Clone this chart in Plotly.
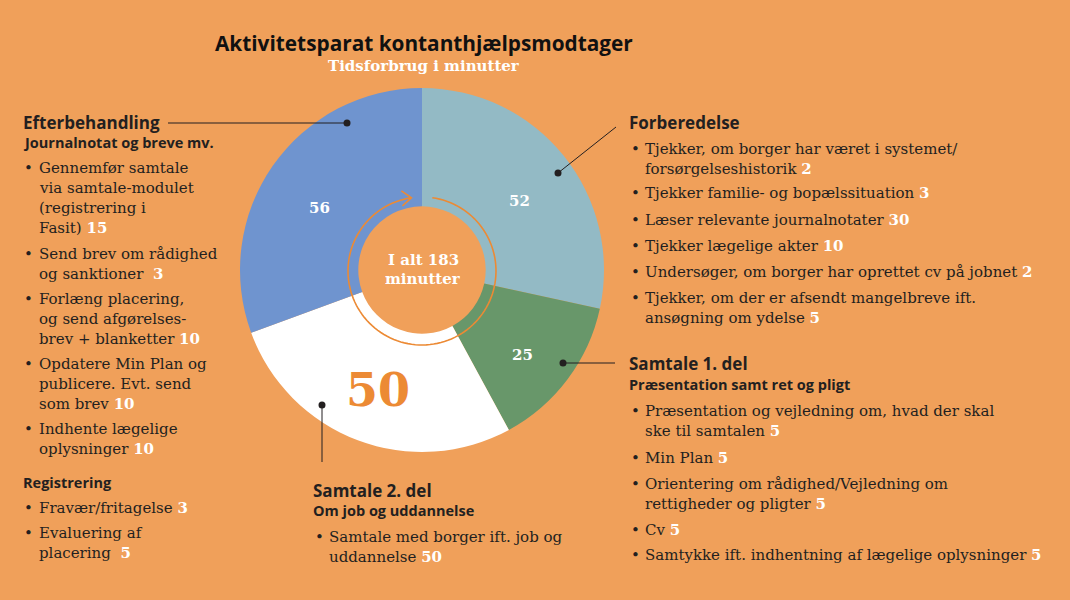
import math
import plotly.graph_objects as go

W, H = 1070, 600

# ---------------- data ----------------
phases = ["Forberedelse", "Samtale 1. del", "Samtale 2. del", "Efterbehandling"]
phase_minutes = [52, 25, 50, 56]
total_minutes = 183

forb_items = [["Tjekker, om borger har været i systemet/", "forsørgelseshistorik"],
              ["Tjekker familie- og bopælssituation"],
              ["Læser relevante journalnotater"],
              ["Tjekker lægelige akter"],
              ["Undersøger, om borger har oprettet cv på jobnet"],
              ["Tjekker, om der er afsendt mangelbreve ift.", "ansøgning om ydelse"]]
forb_minutes = [2, 3, 30, 10, 2, 5]

s1_items = [["Præsentation og vejledning om, hvad der skal", "ske til samtalen"],
            ["Min Plan"],
            ["Orientering om rådighed/Vejledning om", "rettigheder og pligter"],
            ["Cv"],
            ["Samtykke ift. indhentning af lægelige oplysninger"]]
s1_minutes = [5, 5, 5, 5, 5]

s2_items = [["Samtale med borger ift. job og", "uddannelse"]]
s2_minutes = [50]

efter_items = [["Gennemfør samtale", "via samtale-modulet", "(registrering i", "Fasit)"],
               ["Send brev om rådighed", "og sanktioner "],
               ["Forlæng placering,", "og send afgørelses-", "brev + blanketter"],
               ["Opdatere Min Plan og", "publicere. Evt. send", "som brev"],
               ["Indhente lægelige", "oplysninger"]]
efter_minutes = [15, 3, 10, 10, 10]

reg_items = [["Fravær/fritagelse"], ["Evaluering af", "placering "]]
reg_minutes = [3, 5]

# ---------------- style ----------------
BG = "#F0A05A"
COLORS = ["#93BAC5", "#68976A", "#FFFFFF", "#6F94CF"]
LABEL_COLORS = ["white", "white", "#EC8A34", "white"]
LABEL_SIZES = [15, 15, 46, 15]
LABEL_DY = [10, 10, 2, 10]
DARK = "#231F20"
SANS = "Open Sans"
SERIF = "DejaVu Serif"
NUMF = "DejaVu Serif"
BODY = 15
LINE = 20

def px(x):
    return x / W

def py(y):
    return 1 - y / H

CX, CY, R = 422, 270, 182
HOLE = 0.35

fig = go.Figure()
fig.add_trace(go.Pie(
    values=phase_minutes, labels=phases, sort=False, direction="clockwise", rotation=0,
    hole=HOLE,
    domain=dict(x=[px(CX - R), px(CX + R)], y=[py(CY + R), py(CY - R)]),
    marker=dict(colors=COLORS, line=dict(width=0)),
    textinfo="none", showlegend=False, hoverinfo="label+value",
))

ann = []
shapes = []

def text(x, y, s, size=BODY, family=SERIF, color=DARK, anchor="left"):
    ann.append(dict(x=px(x), y=py(y), xref="paper", yref="paper", text=s, showarrow=False,
                    xanchor=anchor, yanchor="middle", font=dict(size=size, family=family, color=color)))

# slice value labels, positioned from the cumulative values (clockwise from 12 o'clock)
cum = 0
tot = sum(phase_minutes)
for v, c, s, dy in zip(phase_minutes, LABEL_COLORS, LABEL_SIZES, LABEL_DY):
    mid = (cum + v / 2) / tot * 2 * math.pi
    cum += v
    rr = R * 0.69
    lx = CX + rr * math.sin(mid)
    ly = CY - rr * math.cos(mid) + dy
    text(lx, ly, f"<b>{v}</b>", size=s, family=NUMF, color=c, anchor="center")

def num(v):
    return f"<span style='font-family:{NUMF};font-weight:bold;color:white'>{v}</span>"

def bullets(xb, xt, ys, items, minutes):
    for y0, lines, m in zip(ys, items, minutes):
        text(xb, y0, "•", size=BODY)
        for i, ln in enumerate(lines):
            s = ln
            if i == len(lines) - 1:
                s = ln + " " + num(m)
            text(xt, y0 + i * LINE, s)

# title
text(424, 43, "<b>Aktivitetsparat kontanthjælpsmodtager</b>", size=20.8, family=SANS, color="#111111", anchor="center")
text(424, 66, "<b>Tidsforbrug i minutter</b>", size=15, family=NUMF, color="white", anchor="center")

# center
text(423, 260, "<b>I alt %d</b>" % total_minutes, size=15, family=NUMF, color="white", anchor="center")
text(423, 279, "<b>minutter</b>", size=15, family=NUMF, color="white", anchor="center")

# left column
text(21, 122, "<b>Efterbehandling</b>", size=17, family=SANS)
text(21, 143, "<b>Journalnotat og breve mv.</b>", size=14.5, family=SANS)
bullets(22, 37, [168, 254, 299, 364, 429], efter_items, efter_minutes)
text(21, 482, "<b>Registrering</b>", size=14.5, family=SANS)
bullets(22, 37, [508, 533], reg_items, reg_minutes)

# right column
text(627, 122, "<b>Forberedelse</b>", size=17, family=SANS)
bullets(629, 643, [149, 193, 220, 246, 272, 298], forb_items, forb_minutes)
text(627, 363, "<b>Samtale 1. del</b>", size=17, family=SANS)
text(627, 384, "<b>Præsentation samt ret og pligt</b>", size=14.5, family=SANS)
bullets(629, 643, [411, 458, 484, 530, 555], s1_items, s1_minutes)

# bottom
text(311, 490, "<b>Samtale 2. del</b>", size=17, family=SANS)
text(311, 510, "<b>Om job og uddannelse</b>", size=14.5, family=SANS)
bullets(313, 327, [537], s2_items, s2_minutes)

# leader lines
def seg(x0, y0, x1, y1):
    shapes.append(dict(type="line", xref="paper", yref="paper", x0=px(x0), y0=py(y0), x1=px(x1), y1=py(y1),
                       line=dict(color=DARK, width=1)))

def dot(x, y, r=3.5):
    shapes.append(dict(type="circle", xref="paper", yref="paper", x0=px(x - r), x1=px(x + r),
                       y0=py(y + r), y1=py(y - r), fillcolor=DARK, line=dict(width=0)))

seg(168, 123, 347, 123); dot(347, 123)
seg(616, 127, 558, 173); dot(558, 173)
seg(563, 363, 615, 363); dot(563, 363)
seg(322, 405, 322, 462); dot(322, 405)

# circular arrow
ac_x, ac_y, ar = 422, 271, 74
pts = []
a0, a1 = 8, 351
n = 120
for i in range(n + 1):
    a = math.radians(a0 + (a1 - a0) * i / n)
    pts.append((ac_x + ar * math.sin(a), ac_y - ar * math.cos(a)))
path = "M " + " L ".join(f"{px(x):.5f},{py(y):.5f}" for x, y in pts)
shapes.append(dict(type="path", xref="paper", yref="paper", path=path,
                   line=dict(color="#EC8A34", width=1.6)))
tip = pts[-1]
arrow = (f"M {px(tip[0]-9):.5f},{py(tip[1]-7):.5f} L {px(tip[0]+1):.5f},{py(tip[1]):.5f} "
         f"L {px(tip[0]-8):.5f},{py(tip[1]+8):.5f}")
shapes.append(dict(type="path", xref="paper", yref="paper", path=arrow,
                   line=dict(color="#EC8A34", width=1.6)))

fig.update_layout(width=W, height=H, margin=dict(l=0, r=0, t=0, b=0),
                  paper_bgcolor=BG, plot_bgcolor=BG, annotations=ann, shapes=shapes)
fig.write_html("out.html", config={"displayModeBar": False},
               post_script="document.body.style.margin='0';document.body.style.overflow='hidden';")
